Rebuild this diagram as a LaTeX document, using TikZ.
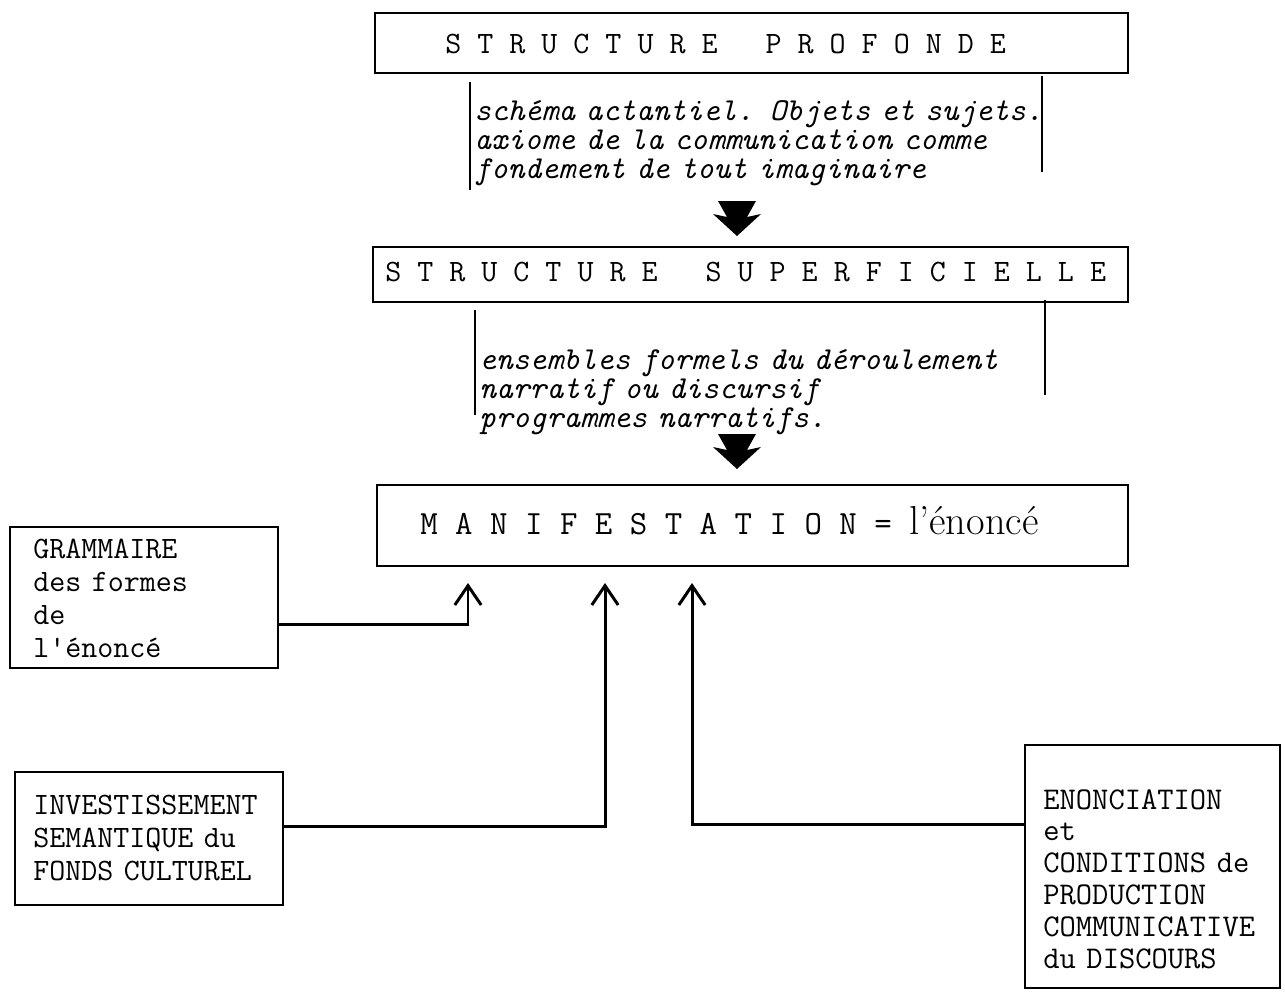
\documentclass[tikz,border=0pt]{standalone}
\usetikzlibrary{arrows.meta,fit,calc}
\begin{document}
\begin{tikzpicture}[x=0.02cm,y=-0.02cm,
  box/.style={draw, line width=1.6pt, inner sep=0pt, rectangle},
  sideline/.style={line width=1.3pt},
  conn/.style={line width=1.7pt, -{Straight Barb[length=11pt,width=15pt]}},
  ttl/.style={font=\fontsize{17.7pt}{20pt}\selectfont\ttfamily, inner sep=0pt},
  mtl/.style={font=\fontsize{19.3pt}{20pt}\selectfont\ttfamily, inner sep=0pt},
  itx/.style={font=\fontsize{18.2pt}{16.6pt}\selectfont\ttfamily\itshape, inner sep=0pt, text width=14cm, align=left},
  bxa/.style={font=\fontsize{17.7pt}{18.8pt}\selectfont\ttfamily, inner sep=0pt, text width=5cm, align=left},
  bxb/.style={font=\fontsize{18pt}{18.2pt}\selectfont\ttfamily, inner sep=0pt, text width=5cm, align=left},
  darr/.pic={\fill (-19,0) -- (19,0) -- (10,16) -- (24,13) -- (0,35) -- (-24,13) -- (-10,16) -- cycle;}
]
\useasboundingbox (0,0) rectangle (1285,995);

% main boxes
\node[box, fit={(375,13) (1128,73)}] (b1) {};
\node[box, fit={(373,247) (1128,302)}] (b2) {};
\node[box, fit={(377,485) (1128,566)}] (b3) {};

\node[ttl, anchor=base west] (t1) at (445,53) {S T R U C T U R E\ \ \ P R O F O N D E};
\node[ttl, anchor=base west] (t2) at (385,281) {S T R U C T U R E\ \ \ S U P E R F I C I E L L E};
\node[mtl, anchor=base west] (t3) at (420,534) {M A N I F E S T A T I O N = {\fontsize{23pt}{23pt}\selectfont\rmfamily l'énoncé}};

% comment blocks
\draw[sideline] (470,82) -- (470,190);
\draw[sideline] (1042,76) -- (1042,172);
\node[itx, anchor=base west] (c1) at (474,120.5) {schéma actantiel. Objets et sujets.\\axiome de la communication comme\\fondement de tout imaginaire};

\draw[sideline] (475,310) -- (475,415);
\draw[sideline] (1045,300) -- (1045,395);
\node[itx, anchor=base west] (c2) at (479,369) {ensembles formels du déroulement\\narratif ou discursif\\programmes narratifs.};

% big down arrows
\pic at (737,201) {darr};
\pic at (737,434) {darr};

% side boxes
\node[box, fit={(10,527) (278,668)}] (gram) {};
\node[bxa, anchor=base west] (gramt) at (33,558) {GRAMMAIRE\\des formes\\de\\l'énoncé};

\node[box, fit={(15,772) (283,905)}] (inv) {};
\node[bxa, anchor=base west] (invt) at (33,814) {INVESTISSEMENT\\SEMANTIQUE du\\FONDS CULTUREL};

\node[box, fit={(1025,745) (1280,988)}] (enon) {};
\node[bxb, anchor=base west] (enont) at (1043,809) {ENONCIATION\\et\\CONDITIONS de\\PRODUCTION\\COMMUNICATIVE\\du DISCOURS};

% connectors
\coordinate (k1) at (468,624);
\coordinate (a1) at (468,583);
\coordinate (k2) at (605,826);
\coordinate (a2) at (605,583);
\coordinate (k3) at (692,824);
\coordinate (a3) at (692,583);

\draw[conn] (gram.east |- k1) -- (k1) -- (a1);
\draw[conn] (inv.east |- k2) -- (k2) -- (a2);
\draw[conn] (enon.west |- k3) -- (k3) -- (a3);
\end{tikzpicture}
\end{document}
